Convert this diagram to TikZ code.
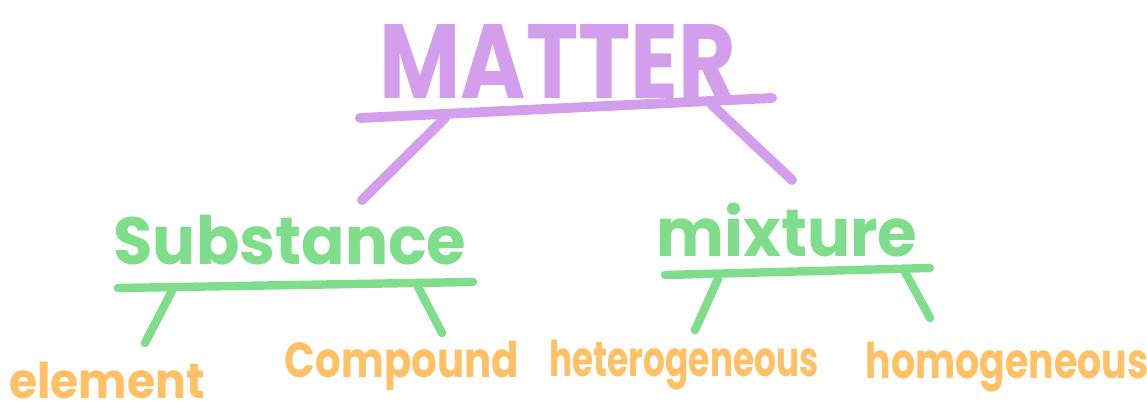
\documentclass[tikz,border=0pt]{standalone}
\usepackage{fontspec}
\setmainfont{Poppins}
\definecolor{matterpurple}{HTML}{D39EEC}
\definecolor{kindgreen}{HTML}{80DD8C}
\definecolor{leaforange}{HTML}{FFC066}

\begin{document}
\begin{tikzpicture}[
    x=1cm,y=1cm,
    every node/.style={inner sep=0pt},
    bar/.style={line width=2.8pt, line cap=round},
    top/.style={bar, matterpurple},
    mid/.style={bar, kindgreen, line width=2.4pt},
    title/.style={text=matterpurple, font=\fontsize{30}{30}\selectfont\bfseries},
    kind/.style={text=kindgreen, font=\fontsize{19}{19}\selectfont\bfseries},
    leaf/.style={text=leaforange, font=\fontsize{14}{14}\selectfont\bfseries}
]
    \useasboundingbox (0,0) rectangle (11.47,4.13);

    % top level
    \node[title] (matter) at (5.58,3.52) {\scalebox{0.84}[1]{MATTER}};
    \coordinate (mbarL) at (3.60,2.95);
    \coordinate (mbarR) at (7.72,3.15);
    \coordinate (mlegA) at (4.45,2.95);
    \coordinate (mlegB) at (7.12,3.08);
    \coordinate (mendA) at (3.62,2.13);
    \coordinate (mendB) at (7.92,2.33);
    \draw[top] (mbarL) -- (mbarR);
    \draw[top] (mlegA) -- (mendA);
    \draw[top] (mlegB) -- (mendB);

    % second level
    \node[kind] (substance) at (2.90,1.73) {\scalebox{0.96}[1]{Substance}};
    \node[kind] (mixture) at (7.87,1.83) {\scalebox{0.96}[1]{mixture}};

    \coordinate (sbarL) at (1.18,1.25);
    \coordinate (sbarR) at (4.73,1.31);
    \coordinate (slegA) at (1.72,1.22);
    \coordinate (slegB) at (4.18,1.26);
    \coordinate (sendA) at (1.45,0.70);
    \coordinate (sendB) at (4.42,0.80);
    \draw[mid] (sbarL) -- (sbarR);
    \draw[mid] (slegA) -- (sendA);
    \draw[mid] (slegB) -- (sendB);

    \coordinate (xbarL) at (6.65,1.38);
    \coordinate (xbarR) at (9.30,1.45);
    \coordinate (xlegA) at (7.18,1.34);
    \coordinate (xlegB) at (9.05,1.41);
    \coordinate (xendA) at (6.95,0.83);
    \coordinate (xendB) at (9.30,0.95);
    \draw[mid] (xbarL) -- (xbarR);
    \draw[mid] (xlegA) -- (xendA);
    \draw[mid] (xlegB) -- (xendB);

    % leaves
    \node[leaf] (element) at (1.07,0.33) {\scalebox{0.93}[1]{element}};
    \node[leaf] (compound) at (4.02,0.47) {\scalebox{0.82}[1]{Compound}};
    \node[leaf] (hetero) at (6.84,0.48) {\scalebox{0.70}[1]{heterogeneous}};
    \node[leaf] (homo) at (10.07,0.46) {\scalebox{0.77}[1]{homogeneous}};
\end{tikzpicture}
\end{document}
